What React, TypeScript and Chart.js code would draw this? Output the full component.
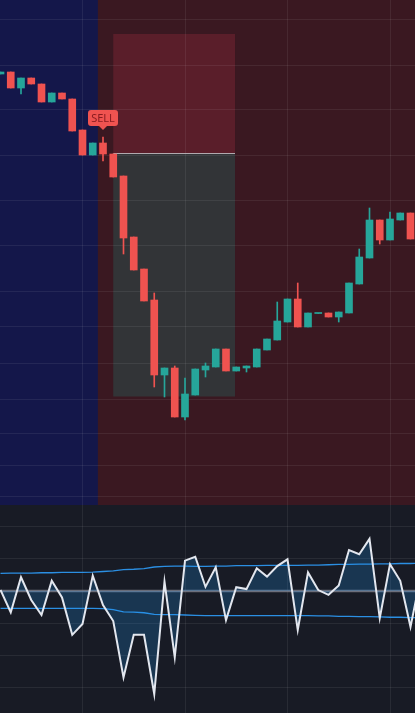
import React, { useEffect, useRef } from "react";
import { Chart, registerables } from "chart.js";
Chart.register(...registerables);

// ---------- data ----------
const OPEN = [2643.1, 2643.3, 2641.7, 2642.7, 2642.1, 2640.3, 2641.2, 2640.6, 2637.5, 2635.0, 2636.2, 2635.1, 2632.9, 2626.8, 2623.6, 2620.5, 2613.0, 2613.7, 2608.8, 2611.0, 2613.5, 2613.8, 2615.6, 2613.4, 2613.7, 2613.8, 2615.5, 2616.5, 2618.3, 2620.6, 2617.8, 2619.15, 2619.2, 2618.8, 2619.2, 2622.1, 2624.7, 2628.5, 2626.5, 2628.5, 2629.2];
const HIGH = [2643.3, 2643.3, 2642.7, 2642.7, 2642.1, 2641.2, 2641.2, 2640.6, 2637.5, 2636.2, 2636.8, 2635.1, 2632.9, 2626.8, 2623.6, 2621.2, 2613.7, 2613.9, 2612.7, 2613.6, 2614.2, 2615.6, 2615.6, 2613.8, 2613.9, 2615.6, 2616.6, 2620.3, 2620.6, 2622.2, 2619.2, 2619.15, 2619.2, 2619.3, 2622.2, 2625.6, 2629.7, 2628.5, 2629.3, 2629.2, 2629.2];
const LOW = [2643.1, 2641.7, 2641.1, 2642.1, 2640.3, 2640.3, 2640.6, 2637.4, 2635.0, 2635.0, 2634.4, 2632.8, 2625.1, 2623.5, 2620.4, 2611.8, 2610.8, 2608.8, 2608.5, 2611.0, 2612.8, 2613.8, 2613.4, 2613.4, 2613.3, 2613.8, 2615.5, 2616.5, 2618.3, 2617.8, 2617.8, 2619.15, 2618.8, 2618.3, 2619.2, 2622.1, 2624.7, 2626.1, 2626.5, 2628.5, 2626.6];
const CLOSE = [2643.3, 2641.7, 2642.7, 2642.1, 2640.3, 2641.2, 2640.6, 2637.4, 2635.0, 2636.2, 2635.1, 2632.8, 2626.7, 2623.5, 2620.4, 2613.0, 2613.7, 2608.8, 2611.1, 2613.6, 2613.9, 2615.6, 2613.4, 2613.8, 2613.9, 2615.6, 2616.6, 2618.4, 2620.6, 2617.8, 2619.2, 2619.15, 2618.8, 2619.3, 2622.2, 2624.8, 2628.5, 2626.5, 2628.6, 2629.2, 2626.6];

const OSC = [50.3, 43.3, 54.3, 47.2, 42.5, 53.2, 48.0, 36.3, 39.7, 54.8, 45.6, 40.6, 23.0, 36.3, 36.3, 17.8, 52.9, 29.3, 59.5, 60.7, 51.3, 57.4, 40.9, 51.2, 50.6, 57.1, 54.5, 57.8, 59.9, 37.8, 55.8, 50.3, 48.8, 51.7, 62.8, 61.5, 66.3, 41.5, 58.4, 53.2, 38.8, 54.7];
const BAND_UP = [55.5, 55.6, 55.6, 55.6, 55.7, 55.7, 55.8, 55.8, 55.8, 55.9, 56.1, 56.3, 56.7, 56.8, 57.0, 57.5, 57.7, 57.8, 57.8, 57.7, 57.7, 57.8, 57.8, 57.9, 57.9, 57.9, 58.0, 58.0, 58.0, 58.0, 58.1, 58.1, 58.2, 58.3, 58.3, 58.4, 58.4, 58.5, 58.5, 58.6, 58.6, 58.7];
const BAND_DN = [44.6, 44.6, 44.6, 44.6, 44.6, 44.6, 44.6, 44.6, 44.6, 44.6, 44.5, 44.2, 43.5, 43.4, 43.2, 42.7, 42.6, 42.6, 42.5, 42.4, 42.3, 42.3, 42.3, 42.3, 42.3, 42.3, 42.3, 42.3, 42.3, 42.3, 42.3, 42.2, 42.2, 42.1, 42.1, 42.0, 42.0, 41.9, 41.8, 41.8, 41.7, 41.7];

const PRICE_GRID = [2648.6, 2643.9, 2639.5, 2635.0, 2630.4, 2625.9, 2621.3, 2617.8, 2614.2, 2610.6, 2607.2, 2603.9, 2600.8];
const OSC_GRID = [20, 30, 40, 50, 60, 70];
const X_GRID = [8, 18, 28, 38];

const X_MIN = -0.0488;
const X_MAX = 40.439;
const PRICE_MIN = 2600;
const PRICE_MAX = 2650.5;
const OSC_MIN = 11.875;
const OSC_MAX = 76.875;
const OSC_MID = 50;

const ZONE_SPLIT = 9.5;
const BOX_START = 11;
const BOX_END = 22.88;
const BOX_TOP = 2647.1;
const ENTRY = 2635.2;
const STOP = 2610.85;
const SIGNAL_INDEX = 10;
const SIGNAL_TEXT = "SELL";

// ---------- style ----------
const W = 415;
const TOP_H = 505;
const BOT_H = 208;
const TEAL = "#26a69a";
const RED = "#ef5350";
const GRID = "rgba(255,255,255,0.07)";

const hiddenAxis = (min: number, max: number, grid: number[]) => ({
  type: "linear" as const,
  min,
  max,
  offset: false,
  grid: { color: GRID, drawTicks: false, offset: false, lineWidth: 1 },
  border: { display: false },
  ticks: { display: false },
  afterBuildTicks: (s: any) => {
    s.ticks = grid.map((v) => ({ value: v }));
  },
});

export default function App() {
  const topRef = useRef<HTMLCanvasElement>(null);
  const botRef = useRef<HTMLCanvasElement>(null);

  useEffect(() => {
    const idx = OPEN.map((_, i) => i);
    const colors = idx.map((i) => (CLOSE[i] >= OPEN[i] ? TEAL : RED));

    const topPlugin = {
      id: "topDeco",
      beforeDraw(chart: any) {
        const { ctx, scales } = chart;
        const xs = scales.x, ys = scales.y;
        ctx.save();
        ctx.fillStyle = "#3a1821";
        ctx.fillRect(0, 0, chart.width, chart.height);
        const split = xs.getPixelForValue(ZONE_SPLIT);
        ctx.fillStyle = "#14174a";
        ctx.fillRect(0, 0, split, chart.height);
        const x0 = xs.getPixelForValue(BOX_START);
        const x1 = xs.getPixelForValue(BOX_END);
        const yT = ys.getPixelForValue(BOX_TOP);
        const yE = ys.getPixelForValue(ENTRY);
        const yS = ys.getPixelForValue(STOP);
        ctx.fillStyle = "#5a1e2a";
        ctx.fillRect(x0, yT, x1 - x0, yE - yT);
        ctx.fillStyle = "#323437";
        ctx.fillRect(x0, yE, x1 - x0, yS - yE);
        ctx.restore();
      },
      beforeDatasetsDraw(chart: any) {
        const { ctx, scales } = chart;
        const xs = scales.x, ys = scales.y;
        const x0 = xs.getPixelForValue(BOX_START);
        const x1 = xs.getPixelForValue(BOX_END);
        const yE = Math.round(ys.getPixelForValue(ENTRY)) + 0.5;
        ctx.save();
        ctx.strokeStyle = "rgba(200,190,195,0.85)";
        ctx.lineWidth = 1;
        ctx.beginPath();
        ctx.moveTo(x0, yE);
        ctx.lineTo(x1, yE);
        ctx.stroke();
        ctx.restore();
      },
      afterDatasetsDraw(chart: any) {
        const { ctx, scales } = chart;
        const cx = scales.x.getPixelForValue(SIGNAL_INDEX);
        const hy = scales.y.getPixelForValue(HIGH[SIGNAL_INDEX]);
        const bw = 30, bh = 16;
        const tip = hy - 7;
        const by = tip - 4 - bh;
        const bx = cx - bw / 2;
        ctx.save();
        ctx.fillStyle = RED;
        ctx.beginPath();
        const r = 3;
        ctx.moveTo(bx + r, by);
        ctx.lineTo(bx + bw - r, by);
        ctx.arcTo(bx + bw, by, bx + bw, by + r, r);
        ctx.lineTo(bx + bw, by + bh - r);
        ctx.arcTo(bx + bw, by + bh, bx + bw - r, by + bh, r);
        ctx.lineTo(cx + 4, by + bh);
        ctx.lineTo(cx, tip);
        ctx.lineTo(cx - 4, by + bh);
        ctx.lineTo(bx + r, by + bh);
        ctx.arcTo(bx, by + bh, bx, by + bh - r, r);
        ctx.lineTo(bx, by + r);
        ctx.arcTo(bx, by, bx + r, by, r);
        ctx.closePath();
        ctx.fill();
        ctx.fillStyle = "#8a1c20";
        ctx.font = '11px "Noto Sans", "DejaVu Sans", sans-serif';
        ctx.textAlign = "center";
        ctx.textBaseline = "middle";
        ctx.fillText(SIGNAL_TEXT, cx, by + bh / 2 + 0.5);
        ctx.restore();
      },
    };

    const top = new Chart(topRef.current as HTMLCanvasElement, {
      type: "bar",
      data: {
        datasets: [
          {
            data: idx.map((i) => ({ x: i, y: [LOW[i], HIGH[i]] })) as any,
            backgroundColor: colors,
            barThickness: 1,
            maxBarThickness: 1,
            grouped: false,
            borderWidth: 0,
          } as any,
          {
            data: idx.map((i) => ({ x: i, y: [OPEN[i], CLOSE[i]] })) as any,
            backgroundColor: colors,
            barThickness: 7,
            maxBarThickness: 7,
            minBarLength: 1,
            grouped: false,
            borderWidth: 0,
          } as any,
        ],
      },
      options: {
        animation: false,
        responsive: false,
        events: [],
        layout: { padding: 0 },
        plugins: { legend: { display: false }, tooltip: { enabled: false } },
        scales: {
          x: hiddenAxis(X_MIN, X_MAX, X_GRID),
          y: hiddenAxis(PRICE_MIN, PRICE_MAX, PRICE_GRID),
        } as any,
      },
      plugins: [topPlugin],
    });

    const botPlugin = {
      id: "botDeco",
      beforeDraw(chart: any) {
        const { ctx } = chart;
        ctx.save();
        ctx.fillStyle = "#181b25";
        ctx.fillRect(0, 0, chart.width, chart.height);
        ctx.restore();
      },
      beforeDatasetsDraw(chart: any) {
        const { ctx, scales } = chart;
        const y = scales.y.getPixelForValue(OSC_MID);
        ctx.save();
        ctx.strokeStyle = "rgba(125,129,142,0.8)";
        ctx.lineWidth = 2.5;
        ctx.beginPath();
        ctx.moveTo(0, y);
        ctx.lineTo(chart.width, y);
        ctx.stroke();
        ctx.restore();
      },
    };

    const bot = new Chart(botRef.current as HTMLCanvasElement, {
      type: "line",
      data: {
        datasets: [
          {
            data: OSC.map((v, i) => ({ x: i, y: v })),
            borderColor: "#e3e7ef",
            borderWidth: 2,
            pointRadius: 0,
            tension: 0,
            fill: { value: OSC_MID },
            backgroundColor: "rgba(33,150,243,0.22)",
          },
          {
            data: BAND_UP.map((v, i) => ({ x: i, y: v })),
            borderColor: "#2b8fe3",
            borderWidth: 1.3,
            pointRadius: 0,
            tension: 0,
            fill: false,
          },
          {
            data: BAND_DN.map((v, i) => ({ x: i, y: v })),
            borderColor: "#2b8fe3",
            borderWidth: 1.3,
            pointRadius: 0,
            tension: 0,
            fill: false,
          },
        ],
      },
      options: {
        animation: false,
        responsive: false,
        events: [],
        layout: { padding: 0 },
        plugins: { legend: { display: false }, tooltip: { enabled: false } },
        scales: {
          x: hiddenAxis(X_MIN, X_MAX, X_GRID),
          y: hiddenAxis(OSC_MIN, OSC_MAX, OSC_GRID),
        } as any,
      },
      plugins: [botPlugin],
    });

    return () => {
      top.destroy();
      bot.destroy();
    };
  }, []);

  return (
    <div
      style={{
        position: "fixed",
        left: 0,
        top: 0,
        width: W,
        height: TOP_H + BOT_H,
        background: "#181b25",
        overflow: "hidden",
      }}
    >
      <canvas ref={topRef} width={W} height={TOP_H} style={{ display: "block" }} />
      <canvas ref={botRef} width={W} height={BOT_H} style={{ display: "block" }} />
    </div>
  );
}
